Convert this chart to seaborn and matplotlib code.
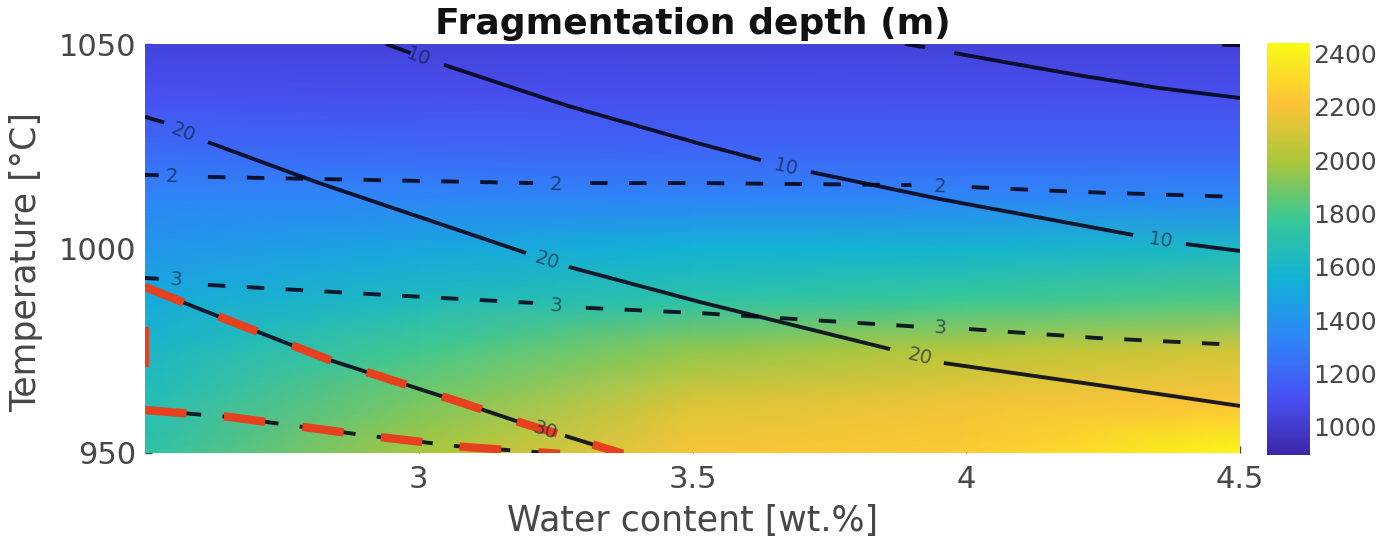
import numpy as np
import matplotlib
matplotlib.use("Agg")
import matplotlib.pyplot as plt
import seaborn as sns
from matplotlib.colors import LinearSegmentedColormap

# ---- field (m) ----
water = [2.5, 3.0, 3.5, 4.0, 4.5]
temperature = [950, 962.5, 975, 987.5, 1000, 1012.5, 1025, 1037.5, 1050]
depth = [
    [1720, 1990, 2200, 2250, 2420],   # 950 C
    [1670, 1900, 2120, 2180, 2220],   # 962.5 C
    [1610, 1800, 1950, 2030, 2100],   # 975 C
    [1520, 1640, 1720, 1780, 1820],   # 987.5 C
    [1420, 1500, 1560, 1580, 1620],   # 1000 C
    [1330, 1330, 1320, 1330, 1350],   # 1012.5 C
    [1210, 1200, 1190, 1190, 1190],   # 1025 C
    [1110, 1100, 1100, 1100, 1100],   # 1037.5 C
    [1045, 1045, 1045, 1045, 1045],   # 1050 C
]
depth_range = [895, 2440]
cbar_ticks = [1000, 1200, 1400, 1600, 1800, 2000, 2200, 2400]

# ---- contour pieces (visible parts between labels) ----
solid_10 = [
    ([2.94, 2.985], [1050.0, 1047.8]),
    ([3.046, 3.274, 3.514, 3.625], [1044.9, 1034.8, 1025.6, 1021.6]),
    ([3.716, 3.952, 4.305], [1018.7, 1012.1, 1003.3]),
    ([4.401, 4.5], [1001.1, 999.4]),
]
solid_10_labels = ([3.0, 3.671, 4.356], [1046.8, 1019.9, 1001.9], [-20, -13, -9])

solid_5 = [
    ([3.888, 3.925], [1050.0, 1049.2]),
    ([3.978, 4.098, 4.213, 4.354, 4.5], [1047.8, 1044.9, 1042.2, 1039.2, 1036.8]),
    ([4.467, 4.5], [1049.8, 1049.7]),
]

solid_20 = [
    ([2.5, 2.535], [1032.2, 1030.8]),
    ([2.615, 2.818, 3.196], [1026.0, 1016.0, 998.9]),
    ([3.274, 3.514, 3.861], [995.5, 986.9, 975.4]),
    ([3.959, 4.241, 4.5], [972.0, 966.6, 961.5]),
]
solid_20_labels = ([2.569, 3.234, 3.916], [1028.4, 997.0, 973.6], [-22, -18, -14])

solid_30 = [
    ([2.5, 2.6, 2.838, 3.081, 3.194], [990.6, 985.2, 972.7, 962.2, 957.1]),
    ([3.267, 3.373], [954.2, 949.8]),
]
solid_30_labels = ([3.231], [955.6], [-18])

dashed_2 = [
    ([2.5, 2.525], [1018.0, 1017.9]),
    ([2.615, 3.209], [1017.5, 1016.0]),
    ([3.313, 3.514, 3.90], [1016.0, 1016.0, 1015.5]),
    ([4.01, 4.213, 4.5], [1015.0, 1013.8, 1012.6]),
]
dashed_2_labels = ([2.549, 3.251, 3.952], [1017.5, 1015.6, 1015.0], [0, -1, -2])

dashed_3 = [
    ([2.5, 2.525], [992.8, 992.6]),
    ([2.615, 2.947, 3.209], [991.1, 988.6, 986.7]),
    ([3.305, 3.514, 3.923], [985.5, 984.2, 980.8]),
    ([4.005, 4.241, 4.5], [980.3, 978.1, 976.4]),
]
dashed_3_labels = ([2.557, 3.251, 3.952], [992.3, 985.9, 980.6], [-3, -3, -4])

dashed_4 = [
    ([2.5, 2.655, 2.898, 3.081, 3.258], [960.5, 958.8, 954.4, 951.5, 949.8]),
]

red_limit = [
    ([2.5, 2.6, 2.838, 3.081, 3.194, 3.267, 3.373], [990.6, 985.2, 972.7, 962.2, 957.1, 954.2, 949.8]),
    ([2.5, 2.655, 2.898, 3.081, 3.258], [960.5, 958.8, 954.4, 951.5, 949.8]),
    ([2.5, 2.5], [980.8, 971.0]),
]

# parula-like colormap (MATLAB parula(8))
parula = LinearSegmentedColormap.from_list("parula", [
    (0.2422, 0.1504, 0.6603), (0.2810, 0.3228, 0.9579), (0.1786, 0.5289, 0.9682),
    (0.0689, 0.6948, 0.8394), (0.2161, 0.7843, 0.5923), (0.6720, 0.7793, 0.2227),
    (0.9970, 0.7659, 0.2199), (0.9769, 0.9839, 0.0805)], N=256)

sns.set_theme(style="white")
plt.rcParams["font.family"] = ["DejaVu Sans"]
tick_grey = "#474747"

fig = plt.figure(figsize=(13.81, 5.45), dpi=100)
ax = fig.add_axes([145 / 1381, 92 / 545, 1095 / 1381, 409 / 545])
cax = fig.add_axes([1267 / 1381, 90 / 545, 43 / 1381, 412 / 545])

mesh = ax.pcolormesh(water, temperature, np.array(depth), cmap=parula,
                     vmin=depth_range[0], vmax=depth_range[1], shading="gouraud")


def draw(pieces, color, lw, dashes=None):
    for xs, ys in pieces:
        kw = dict(color=color, lw=lw, solid_capstyle="butt", dash_capstyle="butt")
        if dashes is not None:
            kw["linestyle"] = (0, dashes)
        sns.lineplot(x=xs, y=ys, ax=ax, sort=False, estimator=None, legend=False, **kw)


def label(lbl, text):
    for x, y, r in zip(*lbl):
        ax.text(x, y, text, fontsize=14, color="#0c2040", alpha=0.65, ha="center",
                va="center", rotation=r, rotation_mode="anchor")


line_col = (0.02, 0.03, 0.1, 0.9)
draw(solid_10, line_col, 2.8)
draw(solid_5, line_col, 2.8)
draw(solid_20, line_col, 2.8)
draw(solid_30, line_col, 2.8)
draw(dashed_2, line_col, 2.8, (4.5, 5.5))
draw(dashed_3, line_col, 2.8, (4.5, 5.5))
draw(dashed_4, line_col, 2.8, (4.5, 5.5))
draw(red_limit, "#e6401e", 6.0, (5.0, 4.5))

label(solid_10_labels, "10")
label(solid_20_labels, "20")
label(solid_30_labels, "30")
label(dashed_2_labels, "2")
label(dashed_3_labels, "3")

ax.set_xlim(2.5, 4.5)
ax.set_ylim(950, 1050)
ax.set_xticks([3, 3.5, 4, 4.5])
ax.set_xticklabels(["3", "3.5", "4", "4.5"])
ax.set_yticks([950, 1000, 1050])
ax.tick_params(direction="in", length=5, width=1, color=tick_grey, labelcolor=tick_grey,
               labelsize=22, bottom=True, left=True)
ax.tick_params(axis="x", pad=9)
ax.tick_params(axis="y", pad=6)
for s in ax.spines.values():
    s.set_visible(False)

ax.set_xlabel("Water content [wt.%]", fontsize=25, color=tick_grey)
ax.set_ylabel("Temperature [\u00b0C]", fontsize=25, color=tick_grey)
ax.xaxis.set_label_coords(0.5, -0.125)
ax.yaxis.set_label_coords(-0.093, 0.467)
ax.set_title("Fragmentation depth (m)", fontsize=26, fontweight="bold", color="#111111", pad=7)

cb = fig.colorbar(mesh, cax=cax, ticks=cbar_ticks)
cb.outline.set_visible(False)
cax.tick_params(direction="in", length=0, labelsize=18, labelcolor=tick_grey, pad=2)

fig.savefig("out.png", dpi=100)
